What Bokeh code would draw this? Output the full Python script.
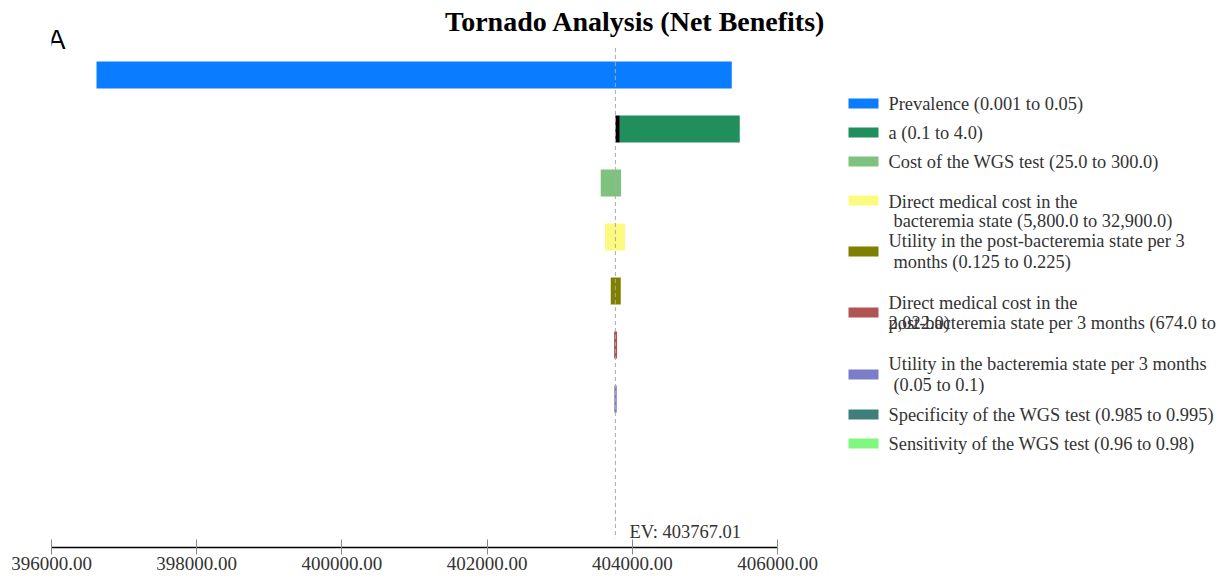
from bokeh.plotting import figure
from bokeh.layouts import row
from bokeh.models import Range1d, FixedTicker, PrintfTickFormatter, Label, ColumnDataSource
from bokeh.embed import file_html
from bokeh.resources import INLINE
from bokeh.core.properties import value

# Tornado inputs: one bar per parameter, net-benefit result at the low and high input values
parameters = [
    "Prevalence (0.001 to 0.05)",
    "a (0.1 to 4.0)",
    "Cost of the WGS test (25.0 to 300.0)",
    "Direct medical cost in the\n bacteremia state (5,800.0 to 32,900.0)",
    "Utility in the post-bacteremia state per 3\n months (0.125 to 0.225)",
    "Direct medical cost in the\npost-bacteremia state per 3 months (674.0 to\n2,022.0)",
    "Utility in the bacteremia state per 3 months\n (0.05 to 0.1)",
    "Specificity of the WGS test (0.985 to 0.995)",
    "Sensitivity of the WGS test (0.96 to 0.98)",
]
low_results = [396620.0, 403827.0, 403845.0, 403900.0, 403703.0, 403790.0, 403752.0, 403766.8, 403767.3]
high_results = [405370.0, 405480.0, 403565.0, 403624.0, 403841.0, 403749.0, 403786.0, 403767.3, 403766.8]
colors = ["#0a7cff", "#218f5b", "#7fc27f", "#fdfa80", "#7f7f00",
          "#b05454", "#7a7ec8", "#3f7f7b", "#80f880"]
expected_value = 403767.01
x_ticks = [396000, 398000, 400000, 402000, 404000, 406000]

SERIF = "Liberation Serif"

n = len(parameters)
idx = list(range(n))
lefts = [min(a, b) for a, b in zip(low_results, high_results)]
rights = [max(a, b) for a, b in zip(low_results, high_results)]
src = ColumnDataSource(dict(y=idx, left=lefts, right=rights, color=colors))

# connector from EV to bars that lie entirely on one side of it
conn_y, conn_l, conn_r = [], [], []
for i in idx:
    if lefts[i] > expected_value:
        conn_y.append(i); conn_l.append(expected_value); conn_r.append(lefts[i])
    elif rights[i] < expected_value:
        conn_y.append(i); conn_l.append(rights[i]); conn_r.append(expected_value)

W_MAIN, H = 830, 578
AXIS_LEFT_PX, AXIS_RIGHT_PX = 51, 777   # pixel columns of the first and last tick
FRAME_BOTTOM = 547          # pixel row of the x axis
ROW_PX = 54                 # vertical distance between bars
FIRST_ROW_PX = 74.5         # centre of the first bar
y_bottom = (FRAME_BOTTOM - FIRST_ROW_PX) / ROW_PX
y_top = -FIRST_ROW_PX / ROW_PX
px_per_unit = (AXIS_RIGHT_PX - AXIS_LEFT_PX) / (x_ticks[-1] - x_ticks[0])
x_end = x_ticks[0] + (W_MAIN - AXIS_LEFT_PX) / px_per_unit

p = figure(width=W_MAIN, height=H, output_backend="svg", toolbar_location=None,
           title=None,
           x_range=Range1d(x_ticks[0], x_end),
           y_range=Range1d(y_bottom, y_top),
           y_axis_location=None,
           min_border_left=AXIS_LEFT_PX, min_border_right=0,
           min_border_top=0, min_border_bottom=H - FRAME_BOTTOM)
p.outline_line_color = None
p.grid.visible = False
p.background_fill_color = "white"
p.border_fill_color = "white"

p.hbar(y="y", left="left", right="right", height=0.5, color="color", source=src, line_width=0)
p.hbar(y=conn_y, left=conn_l, right=conn_r, height=0.5, color="black", line_width=0)

# expected-value reference line
p.segment(x0=[expected_value], x1=[expected_value], y0=[-0.5], y1=[y_bottom - 0.17],
          line_color="#aaaaaa", line_dash="4 3", line_width=1)

ax = p.xaxis[0]
ax.bounds = (x_ticks[0], x_ticks[-1])
ax.ticker = FixedTicker(ticks=x_ticks)
ax.formatter = PrintfTickFormatter(format="%.2f")
ax.axis_line_color = "black"
ax.axis_line_width = 1.5
ax.major_tick_line_color = "#888888"
ax.major_tick_in = 8
ax.major_tick_out = 7
ax.minor_tick_line_color = None
ax.major_label_text_font = SERIF
ax.major_label_text_font_size = "19px"
ax.major_label_text_color = "#333333"
ax.major_label_standoff = 2

p.add_layout(Label(x=expected_value, x_offset=14, y=531, y_units="canvas",
                   text="EV: %.2f" % expected_value, text_font=SERIF,
                   text_font_size="18.5px", text_color="#333333", text_baseline="middle"))

p.add_layout(Label(x=635, y=21, x_units="canvas", y_units="canvas",
                   text="Tornado Analysis (Net Benefits)", text_font=SERIF,
                   text_font_style="bold", text_font_size="28px", text_color="black",
                   text_align="center", text_baseline="middle"))
p.add_layout(Label(x=56, y=39, x_units="canvas", y_units="canvas", text="A",
                   text_font="Liberation Sans", text_font_size="27px", text_color="black",
                   text_align="center", text_baseline="middle"))

# legend panel, laid out in pixel coordinates (frame aligned with the chart frame)
W_LEG = 1221 - W_MAIN
lg = figure(width=W_LEG, height=H, output_backend="svg", toolbar_location=None,
            title=None,
            x_range=Range1d(W_MAIN, 1221), y_range=Range1d(FRAME_BOTTOM, 0),
            x_axis_location=None, y_axis_location=None,
            min_border_left=0, min_border_right=0, min_border_top=0,
            min_border_bottom=H - FRAME_BOTTOM)
lg.outline_line_color = None
lg.grid.visible = False

swatch_y = [103, 132, 161, 200, 251, 312, 374, 414, 443]
line_y = [[103], [132], [161], [201, 220], [240, 261], [302, 322, 322], [363, 384], [414], [443]]

lg.rect(x=[863] * n, y=swatch_y, width=30, height=10, color=colors, line_width=0)
tx, ty, tt = [], [], []
for label, ys in zip(parameters, line_y):
    for line, yy in zip(label.split("\n"), ys):
        stripped = line.lstrip(" ")
        tx.append(888 + 5 * (len(line) - len(stripped)))
        ty.append(yy)
        tt.append(stripped)
lg.text(x=tx, y=ty, text=tt, text_font=value(SERIF), text_font_size="18.4px",
        text_color="#333333", text_baseline="middle", text_align="left")

layout = row(p, lg)
open("out.html", "w").write(file_html(layout, INLINE))
